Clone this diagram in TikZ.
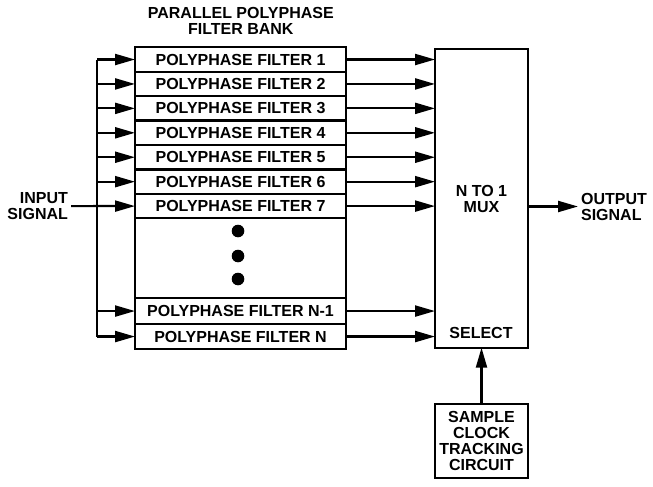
\documentclass[tikz,border=0pt]{standalone}
\usepackage{fontspec}
\setmainfont{Liberation Sans}
\usetikzlibrary{arrows.meta}

\begin{document}
\begin{tikzpicture}[x=1pt,y=-1pt,line width=2.2pt,
  font=\fontsize{16}{16}\selectfont\bfseries,
  filt/.style={draw,minimum width=211pt,minimum height=24.43pt,inner sep=0pt,outer sep=0pt},
  blk/.style={draw,minimum width=93pt,inner sep=0pt,outer sep=0pt,align=center},
  lbl/.style={inner sep=2pt,align=center},
  sig/.style={-{Triangle[length=20pt,width=11pt]}}]
  \useasboundingbox (0,0) rectangle (653,487);
  \node[lbl] (title) at (240.8,21) {PARALLEL POLYPHASE\\FILTER BANK};
  \foreach \i in {1,...,7}
    \node[filt] (f\i) at (240.5,{47.3+24.43*(\i-0.5)}) {POLYPHASE FILTER \i};
  \node[filt,minimum height=80pt] (gap) at (240.5,258.3) {};
  \node[filt,minimum height=25.5pt] (fn1) at (240.5,311.05) {POLYPHASE FILTER N-1};
  \node[filt,minimum height=25.5pt] (fn) at (240.5,336.55) {POLYPHASE FILTER N};
  \foreach \y in {231,256,279}
    \fill (238,\y) circle (6.3pt);
  \node[blk,minimum height=298.4pt] (mux) at (481.5,198.5) {N TO 1\\MUX};
  \node[lbl,anchor=base] (sel) at (481,338.5) {SELECT};
  \node[blk,minimum height=74pt] (clk) at (481.5,441) {SAMPLE\\CLOCK\\TRACKING\\CIRCUIT};
  \node[lbl,anchor=east,align=right] (in) at (71,206.1) {INPUT\\SIGNAL};
  \node[lbl,anchor=west,align=left] (out) at (578,206.5) {OUTPUT\\SIGNAL};
  \coordinate (bus) at (97,0);
  \draw (f1.west -| bus) -- (fn.west -| bus);
  \foreach \n in {f1,f2,f3,f4,f5,f6,fn1,fn}
    \draw[sig] (\n.west -| bus) -- (\n.west);
  \draw[sig] (in.east) -- (f7.west);
  \foreach \n in {f1,f2,f3,f4,f5,f6,f7,fn1,fn}
    \draw[sig] (\n.east) -- (\n.east -| mux.west);
  \draw[sig] (out.west -| mux.east) -- (out.west);
  \draw[sig] (clk.north) -- (mux.south);
\end{tikzpicture}
\end{document}
